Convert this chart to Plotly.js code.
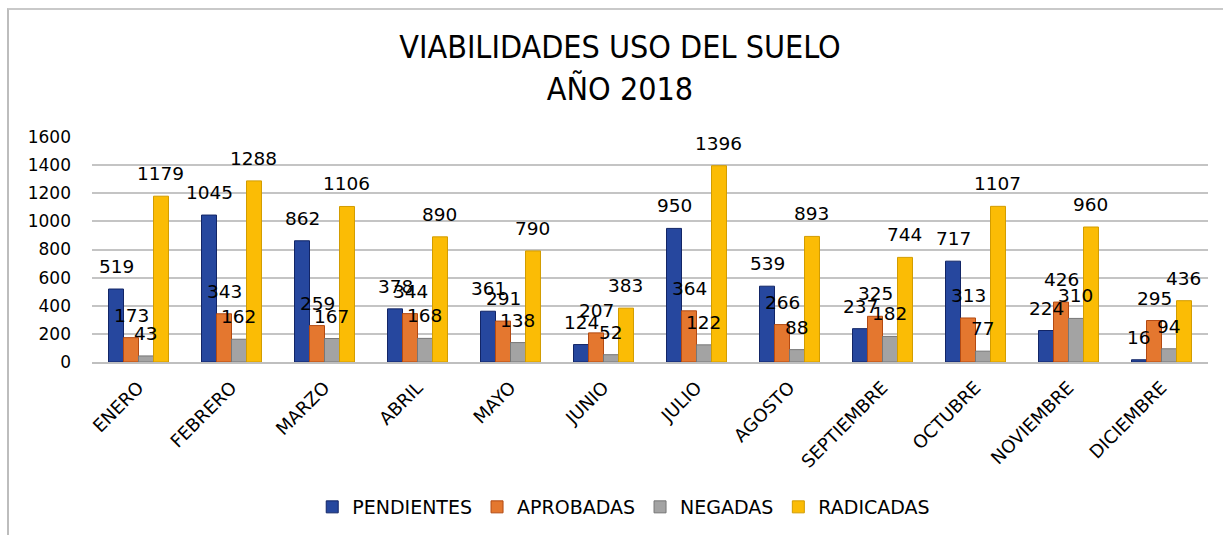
<!DOCTYPE html>
<html>
<head>
<meta charset="utf-8">
<script src="https://cdn.plot.ly/plotly-3.0.1.min.js"></script>
<style>
  html, body { margin: 0; padding: 0; background: #fff; }
  #wrap { position: relative; width: 1223px; height: 535px; overflow: hidden; }
  #chart { position: absolute; left: 0; top: 0; width: 1223px; height: 535px; }
  #frame { position: absolute; left: 7px; top: 8px; width: 1300px; height: 600px;
           border-left: 2px solid #bdbdbd; border-top: 2px solid #c9c9c9; pointer-events: none; }
</style>
</head>
<body>
<div id="wrap">
  <div id="chart"></div>
  <div id="frame"></div>
</div>
<script>
const months = ["ENERO","FEBRERO","MARZO","ABRIL","MAYO","JUNIO","JULIO","AGOSTO","SEPTIEMBRE","OCTUBRE","NOVIEMBRE","DICIEMBRE"];
const pendientes = [519,1045,862,378,361,124,950,539,237,717,224,16];
const aprobadas  = [173,343,259,344,291,207,364,266,325,313,426,295];
const negadas    = [43,162,167,168,138,52,122,88,182,77,310,94];
const radicadas  = [1179,1288,1106,890,790,383,1396,893,744,1107,960,436];
const yTicks = [0,200,400,600,800,1000,1200,1400,1600];

const seriesNames = ["PENDIENTES","APROBADAS","NEGADAS","RADICADAS"];
const seriesData = [pendientes, aprobadas, negadas, radicadas];
const fills = ["#26479e","#e4772f","#a3a3a3","#fbbc05"];
const lines = ["#122566","#b34a12","#777777","#d29c00"];

const traces = seriesData.map((d, i) => ({
  type: "bar",
  name: seriesNames[i],
  x: months,
  y: d,
  marker: { color: fills[i], line: { color: lines[i], width: 1 } },
  hoverinfo: "skip"
}));

// Plot geometry used to place the value labels over each grouped bar
const plotLeft = 92, plotRight = 15, plotWidth = 1223 - plotLeft - plotRight;
const bargap = 0.355;
const catWidth = plotWidth / months.length;
const barW = catWidth * (1 - bargap) / 4;

const annotations = [];
seriesData.forEach((d, i) => {
  d.forEach((v, j) => {
    annotations.push({
      x: months[j], y: v, xref: "x", yref: "y",
      text: String(v), showarrow: false,
      xanchor: "center", yanchor: "bottom",
      xshift: (i - 1.5) * barW, yshift: 10,
      font: { family: "DejaVu Sans", size: 18.5, color: "#000" }
    });
  });
});

const layout = {
  width: 1223, height: 535,
  paper_bgcolor: "rgba(0,0,0,0)", plot_bgcolor: "rgba(0,0,0,0)",
  margin: { l: plotLeft, r: plotRight, t: 137, b: 173 },
  title: {
    text: "VIABILIDADES USO DEL SUELO<br>AÑO 2018",
    font: { family: "DejaVu Sans Condensed, Liberation Sans, sans-serif", size: 32, color: "#000" },
    x: 620 / 1223, xref: "container", xanchor: "center",
    y: 1 - 58 / 535, yref: "container", yanchor: "top"
  },
  barmode: "group",
  bargap: bargap, bargroupgap: 0,
  showlegend: true,
  legend: {
    orientation: "h", x: 0.51, xref: "container", xanchor: "center",
    y: 1 - 507 / 535, yref: "container", yanchor: "middle",
    font: { family: "DejaVu Sans", size: 19, color: "#000" },
    itemwidth: 30, tracegroupgap: 0
  },
  xaxis: {
    type: "category",
    tickangle: -45,
    tickfont: { family: "DejaVu Sans", size: 18, color: "#000" },
    showgrid: false, showline: true, linecolor: "#bfbfbf", linewidth: 2,
    ticks: "", ticklabelstandoff: 6, fixedrange: true
  },
  yaxis: {
    range: [0, 1600],
    tickvals: yTicks, ticktext: yTicks.map(String),
    tickfont: { family: "DejaVu Sans", size: 17, color: "#000" },
    showgrid: true, gridcolor: "#c4c4c4", gridwidth: 2,
    zeroline: false, showline: false, ticks: "",
    ticklabelstandoff: 20, fixedrange: true
  },
  annotations: annotations
};

Plotly.newPlot("chart", traces, layout, { displayModeBar: false, staticPlot: true });
</script>
</body>
</html>
